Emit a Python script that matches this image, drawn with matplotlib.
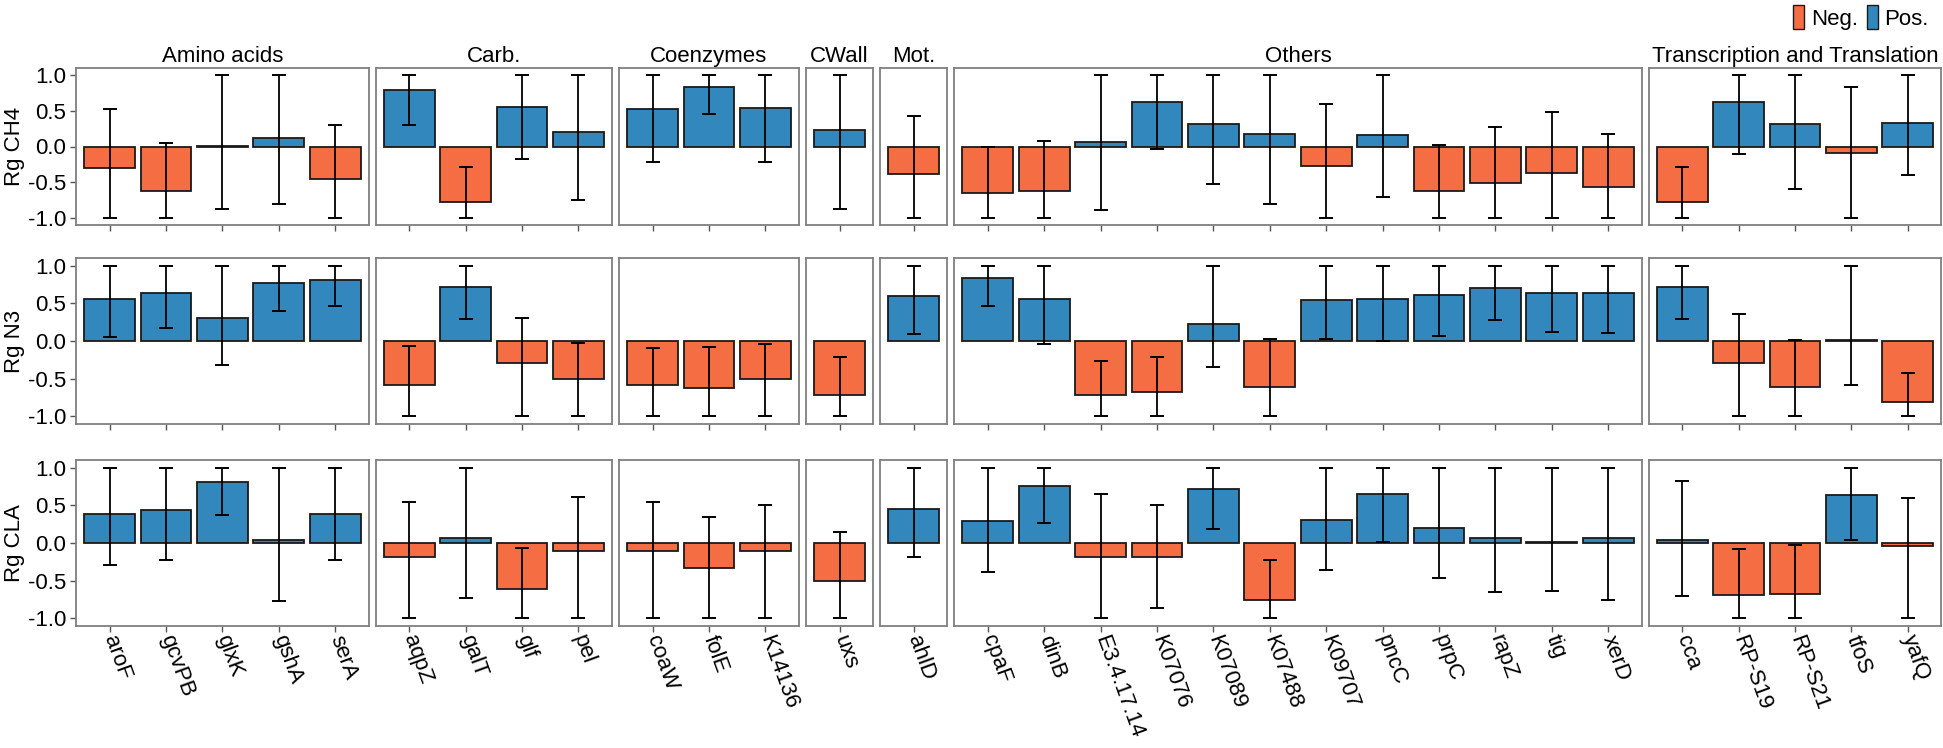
import matplotlib
matplotlib.use('Agg')
import matplotlib.pyplot as plt
from matplotlib.patches import Patch
import numpy as np

plt.rcParams['font.family'] = ['Liberation Sans', 'DejaVu Sans']

## facet columns and genes
groups = ['Amino acids', 'Carb.', 'Coenzymes', 'CWall', 'Mot.', 'Others', 'Transcription and Translation']
group_sizes = [5, 4, 3, 1, 1, 12, 5]
genes = ['aroF', 'gcvPB', 'glxK', 'gshA', 'serA',
         'aqpZ', 'galT', 'glf', 'pel',
         'coaW', 'folE', 'K14136',
         'uxs',
         'ahlD',
         'cpaF', 'dinB', 'E3.4.17.14', 'K07076', 'K07089', 'K07488', 'K09707', 'pncC', 'prpC', 'rapZ', 'tig', 'xerD',
         'cca', 'RP-S19', 'RP-S21', 'tfoS', 'yafQ']

rows = ['Rg CH4', 'Rg N3', 'Rg CLA']

## Rg CH4
ch4 = [-0.30, -0.63, 0.01, 0.12, -0.46, 0.79, -0.78, 0.56, 0.20, 0.53, 0.83, 0.54, 0.23, -0.38,
       -0.65, -0.62, 0.06, 0.62, 0.32, 0.17, -0.27, 0.16, -0.63, -0.51, -0.37, -0.57,
       -0.78, 0.62, 0.31, -0.09, 0.33]
ch4_lo = [-1.0, -1.0, -0.88, -0.80, -1.0, 0.30, -1.0, -0.17, -0.75, -0.22, 0.45, -0.22, -0.88, -1.0,
          -1.0, -1.0, -0.89, -0.03, -0.53, -0.80, -1.0, -0.71, -1.0, -1.0, -1.0, -1.0,
          -1.0, -0.11, -0.60, -1.0, -0.40]
ch4_hi = [0.52, 0.05, 1.0, 1.0, 0.30, 1.0, -0.29, 1.0, 1.0, 1.0, 1.0, 1.0, 1.0, 0.43,
          0.0, 0.08, 1.0, 1.0, 1.0, 1.0, 0.59, 1.0, 0.02, 0.28, 0.49, 0.18,
          -0.29, 1.0, 1.0, 0.84, 1.0]

## Rg N3
n3 = [0.56, 0.63, 0.30, 0.77, 0.81, -0.58, 0.72, -0.29, -0.50, -0.58, -0.62, -0.50, -0.71, 0.59,
      0.83, 0.56, -0.72, -0.68, 0.23, -0.61, 0.54, 0.56, 0.61, 0.70, 0.64, 0.63,
      0.71, -0.29, -0.61, 0.01, -0.81]
n3_lo = [0.05, 0.17, -0.32, 0.40, 0.46, -1.0, 0.29, -1.0, -1.0, -1.0, -1.0, -1.0, -1.0, 0.09,
         0.46, -0.04, -1.0, -1.0, -0.34, -1.0, 0.03, 0.0, 0.07, 0.28, 0.12, 0.10,
         0.29, -1.0, -1.0, -0.58, -1.0]
n3_hi = [1.0, 1.0, 1.0, 1.0, 1.0, -0.07, 1.0, 0.31, -0.02, -0.09, -0.08, -0.04, -0.21, 1.0,
         1.0, 1.0, -0.27, -0.21, 1.0, 0.03, 1.0, 1.0, 1.0, 1.0, 1.0, 1.0,
         1.0, 0.36, 0.01, 1.0, -0.43]

## Rg CLA
cla = [0.38, 0.44, 0.81, 0.045, 0.38, -0.18, 0.07, -0.61, -0.11, -0.11, -0.33, -0.11, -0.50, 0.45,
       0.29, 0.76, -0.18, -0.18, 0.72, -0.76, 0.31, 0.65, 0.20, 0.07, 0.012, 0.07,
       0.045, -0.69, -0.68, 0.63, -0.04]
cla_lo = [-0.29, -0.22, 0.37, -0.77, -0.22, -1.0, -0.73, -1.0, -1.0, -1.0, -1.0, -1.0, -1.0, -0.19,
          -0.39, 0.26, -1.0, -0.86, 0.18, -1.0, -0.36, 0.01, -0.47, -0.65, -0.63, -0.75,
          -0.70, -1.0, -1.0, 0.04, -1.0]
cla_hi = [1.0, 1.0, 1.0, 1.0, 1.0, 0.54, 1.0, -0.06, 0.61, 0.55, 0.34, 0.50, 0.15, 1.0,
          1.0, 1.0, 0.65, 0.50, 1.0, -0.22, 1.0, 1.0, 1.0, 1.0, 1.0, 1.0,
          0.82, -0.08, -0.03, 1.0, 0.59]

values = [ch4, n3, cla]
lows = [ch4_lo, n3_lo, cla_lo]
highs = [ch4_hi, n3_hi, cla_hi]

col_neg = '#F46D43'
col_pos = '#3288BD'

## layout in pixels
W, H = 1943, 748
left = 76
per_cat = 56.4
pad_cat = 0.095
gap = 7
row_top = [68, 258, 460]
row_h = [157, 166, 166]
fs = 16

fig = plt.figure(figsize=(W/100., H/100.), dpi=100)

starts = np.cumsum([0] + group_sizes)
for r in range(3):
    x0 = left
    for c, g in enumerate(groups):
        n = group_sizes[c]
        w = per_cat*(n + 2*pad_cat)
        ax = fig.add_axes([x0/W, 1 - (row_top[r]+row_h[r])/H, w/W, row_h[r]/H])
        x0 += w + gap
        sl = slice(starts[c], starts[c+1])
        v = np.array(values[r][sl])
        lo = np.array(lows[r][sl])
        hi = np.array(highs[r][sl])
        x = np.arange(n)
        cols = [col_pos if a >= 0 else col_neg for a in v]
        ax.bar(x, v, width=0.9, color=cols, edgecolor='#1a1a1a', linewidth=1.3, zorder=2)
        ax.errorbar(x, (lo+hi)/2., yerr=(hi-lo)/2., fmt='none', ecolor='black',
                    elinewidth=1.3, capsize=5, capthick=1.4, zorder=3)
        ax.set_xlim(-0.5-pad_cat, n-0.5+pad_cat)
        ax.set_ylim(-1.1, 1.1)
        for s in ax.spines.values():
            s.set_color('#7f7f7f')
            s.set_linewidth(1.3)
        ax.set_xticks(x)
        ax.tick_params(axis='both', direction='out', length=4, color='#555555', width=1.0,
                       labelsize=fs, pad=3, labelcolor='black')
        if r == 2:
            ax.set_xticklabels(genes[sl], rotation=-70, ha='left', va='center', rotation_mode='anchor')
        else:
            ax.set_xticklabels([])
        if c == 0:
            ax.set_yticks([-1.0, -0.5, 0.0, 0.5, 1.0])
            ax.set_yticklabels(['-1.0', '-0.5', '0.0', '0.5', '1.0'])
            ax.set_ylabel(rows[r], fontsize=fs, labelpad=2)
        else:
            ax.set_yticks([])
        if r == 0:
            ax.set_title(g, fontsize=fs, pad=4)

handles = [Patch(facecolor=col_neg, edgecolor='#1a1a1a', label='Neg.'),
           Patch(facecolor=col_pos, edgecolor='#1a1a1a', label='Pos.')]
fig.legend(handles=handles, loc='upper right', bbox_to_anchor=(1.003, 1.02), ncol=2, frameon=False,
           fontsize=fs, handlelength=0.5, handleheight=1.3, handletextpad=0.3, columnspacing=0.4)

fig.savefig('out.png', dpi=100)
